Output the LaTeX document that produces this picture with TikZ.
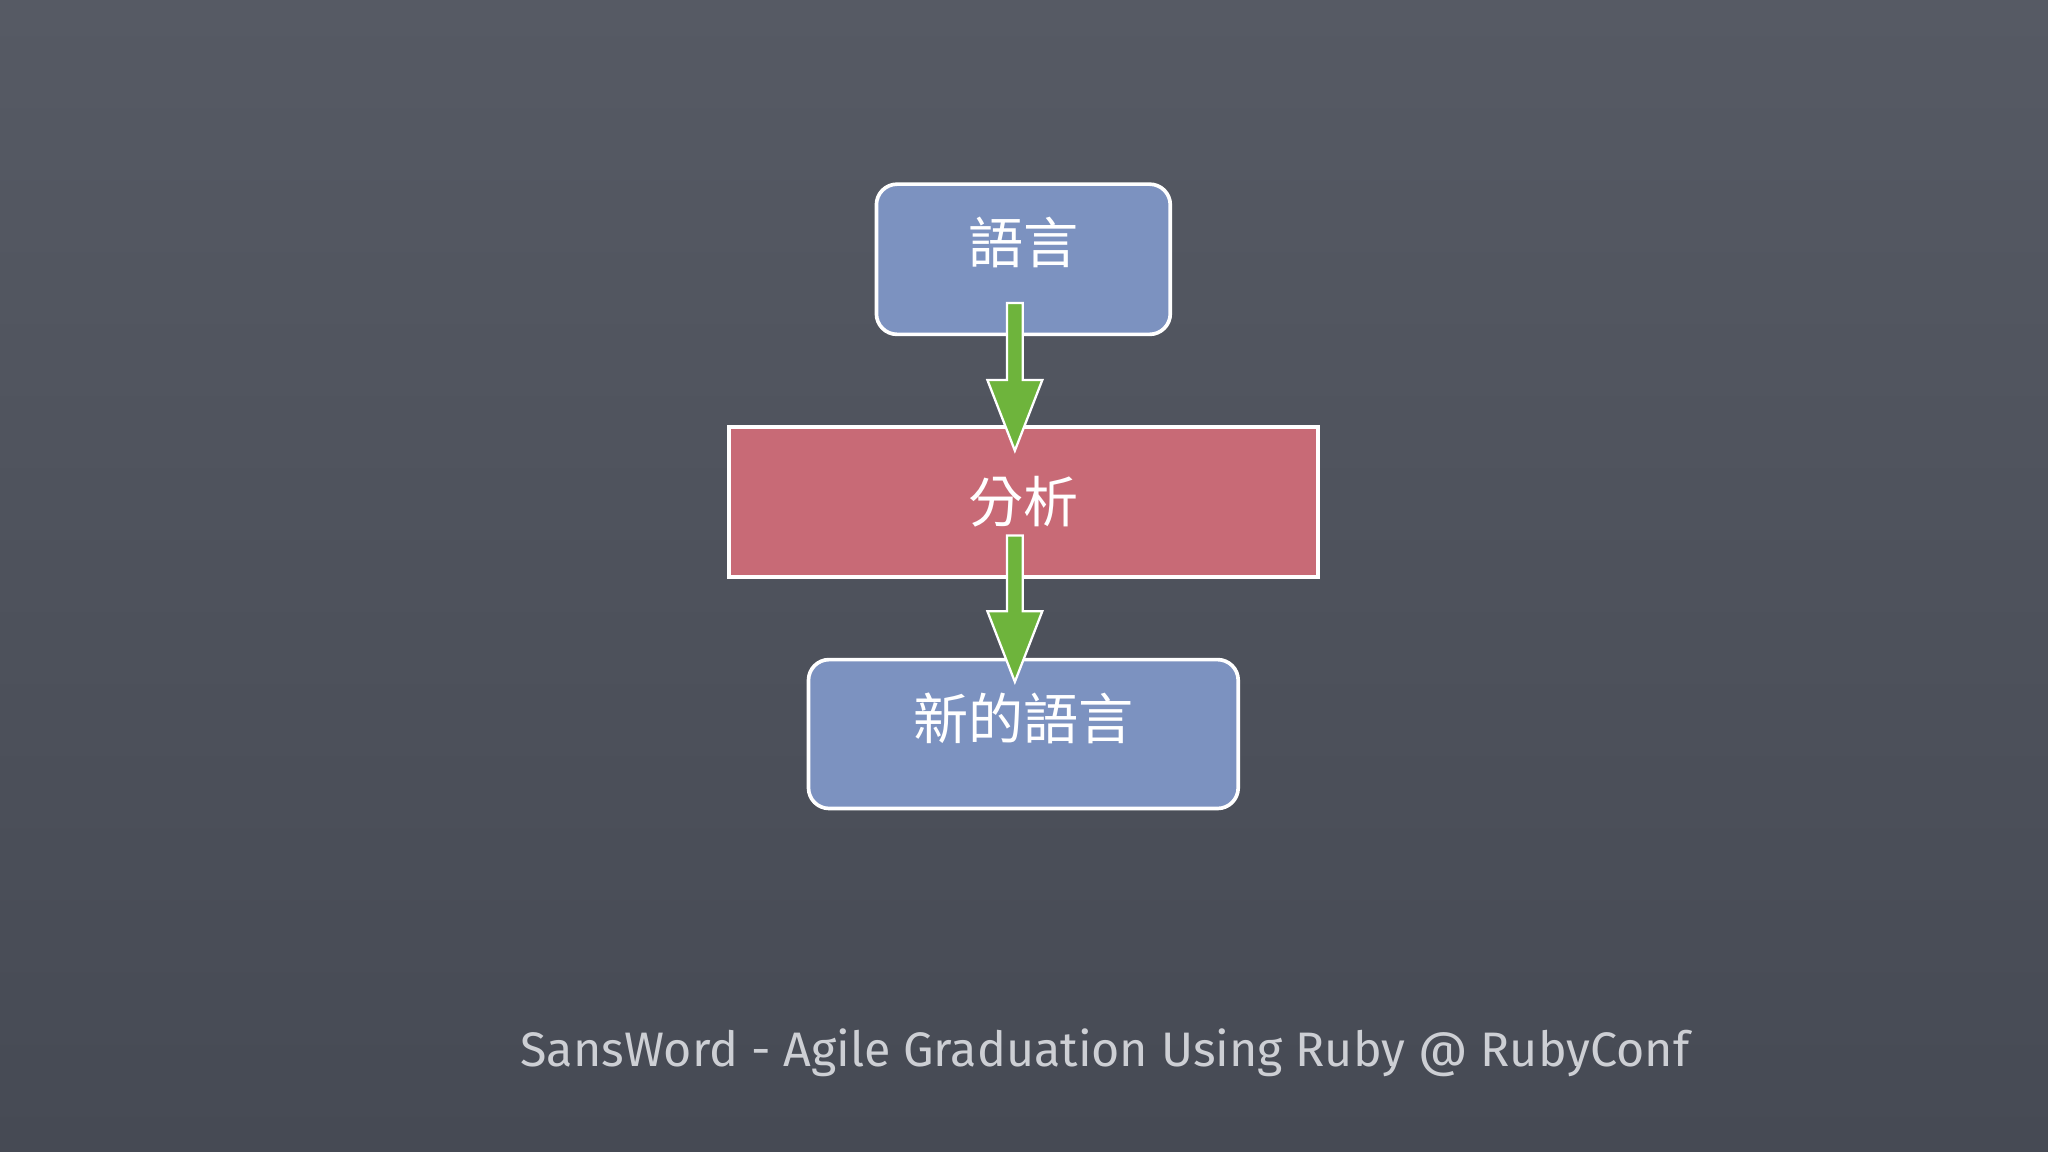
\documentclass[tikz,border=0pt]{standalone}
\usepackage{fontspec}
\setmainfont{Fira Sans}
\newfontfamily\cjk{Noto Sans CJK TC}
\begin{document}
\begin{tikzpicture}[x=0.02cm,y=-0.02cm,
  bluebox/.style={draw=white,line width=1.6pt,fill={rgb,255:red,124;green,146;blue,192},rounded corners=9pt},
  redbox/.style={draw=white,line width=1.6pt,fill={rgb,255:red,200;green,106;blue,118}},
  lbl/.style={text=white,font=\cjk\fontsize{24}{28}\selectfont},
  garrow/.style={draw=white,line width=1pt,fill={rgb,255:red,110;green,180;blue,60}}]
\fill[top color={rgb,255:red,86;green,90;blue,100},bottom color={rgb,255:red,70;green,74;blue,84}] (0,0) rectangle (1568,882);
\useasboundingbox (0,0) rectangle (1568,882);
\path[bluebox] (671,141) rectangle (896,256);
\node[lbl] (a) at (783.5,186) {語言};
\path[redbox] (558,327) rectangle (1009,442);
\node[lbl] (b) at (783.5,384) {分析};
\path[bluebox] (619,505) rectangle (948,619);
\node[lbl] (c) at (783.5,550) {新的語言};
\path[garrow] (771,232) -- (783,232) -- (783,291) -- (798,291) -- (777,345) -- (756,291) -- (771,291) -- cycle;
\path[garrow] (771,410) -- (783,410) -- (783,468) -- (798,468) -- (777,522) -- (756,468) -- (771,468) -- cycle;
\node[text={rgb,255:red,205;green,207;blue,212},font=\fontsize{21.1}{25}\selectfont] (f) at (846,806) {SansWord - Agile Graduation Using Ruby @ RubyConf};
\end{tikzpicture}
\end{document}
